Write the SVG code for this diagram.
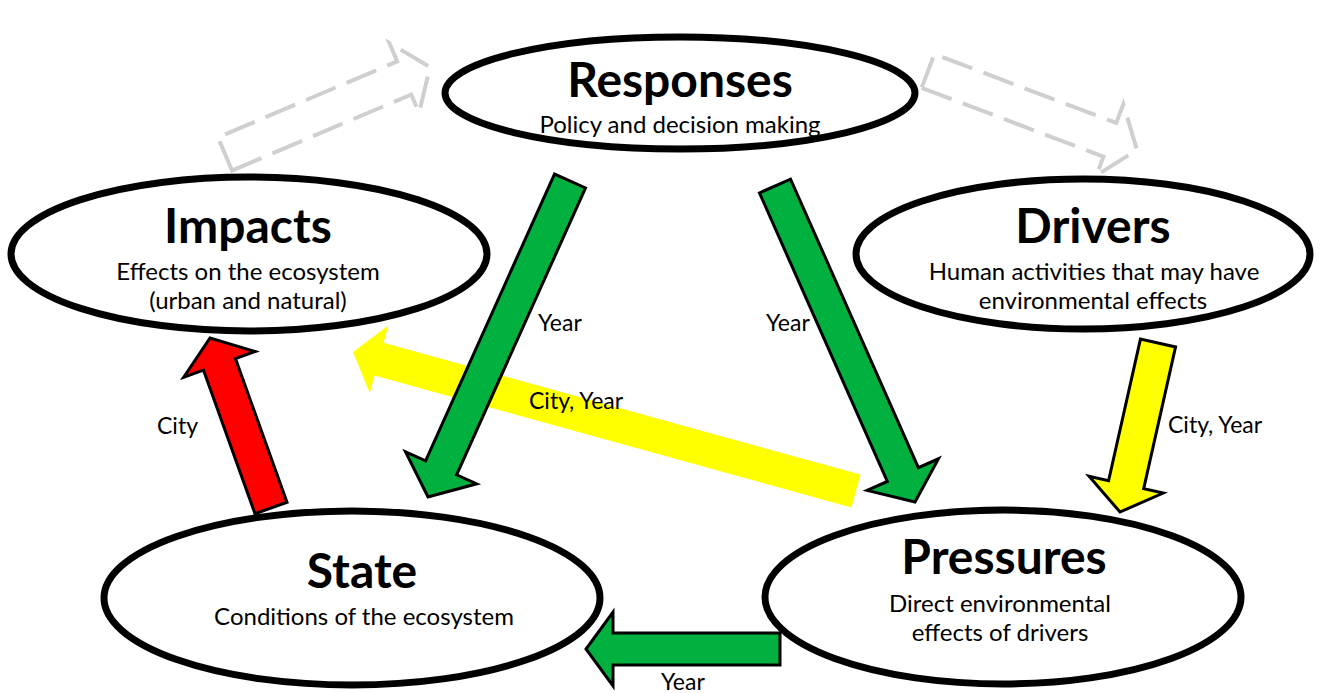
<svg xmlns="http://www.w3.org/2000/svg" width="1323" height="693" viewBox="0 0 1323 693">
  <style>
    .node ellipse { fill: #ffffff; stroke: #000000; stroke-width: 7; }
    .title { font-family: Lato, "Open Sans", "Liberation Sans", sans-serif; font-weight: 700; font-size: 48px; fill: #000; text-anchor: middle; }
    .sub { font-family: Lato, "Open Sans", "Liberation Sans", sans-serif; font-size: 24px; fill: #000; text-anchor: middle; }
    .lbl { font-family: Lato, "Open Sans", "Liberation Sans", sans-serif; font-size: 23px; fill: #000; }
    .green { fill: #00b140; stroke: #000; stroke-width: 3; stroke-linejoin: miter; }
    .red { fill: #ff0000; stroke: #000; stroke-width: 3; stroke-linejoin: miter; }
    .yellow { fill: #ffff00; stroke: #000; stroke-width: 3; stroke-linejoin: miter; }
    .yellow-plain { fill: #ffff00; stroke: none; }
    .dashed { fill: none; stroke: #cfcfcf; stroke-width: 4; stroke-dasharray: 32 12; stroke-linejoin: miter; }
  </style>
  <rect width="1323" height="693" fill="#ffffff"/>

  <!-- DPSIR nodes -->
  <g id="responses" class="node">
    <ellipse cx="680" cy="93" rx="235" ry="56"/>
    <text class="title" x="680" y="97">Responses</text>
    <text class="sub" x="680" y="133">Policy and decision making</text>
  </g>
  <g id="impacts" class="node">
    <ellipse cx="249" cy="254" rx="238" ry="77"/>
    <text class="title" x="248" y="243">Impacts</text>
    <text class="sub" x="248" y="280">Effects on the ecosystem</text>
    <text class="sub" x="248" y="309">(urban and natural)</text>
  </g>
  <g id="drivers" class="node">
    <ellipse cx="1083" cy="254" rx="227" ry="75"/>
    <text class="title" x="1093" y="243">Drivers</text>
    <text class="sub" x="1094" y="280">Human activities that may have</text>
    <text class="sub" x="1093" y="309">environmental effects</text>
  </g>
  <g id="state" class="node">
    <ellipse cx="352" cy="598" rx="248" ry="87"/>
    <text class="title" x="362" y="588">State</text>
    <text class="sub" x="364" y="625">Conditions of the ecosystem</text>
  </g>
  <g id="pressures" class="node">
    <ellipse cx="1003" cy="597" rx="238" ry="87"/>
    <text class="title" x="1004" y="574">Pressures</text>
    <text class="sub" x="1000" y="612">Direct environmental</text>
    <text class="sub" x="1000" y="641">effects of drivers</text>
  </g>

  <!-- block-arrow connectors -->
  <g id="connectors">
    <!-- pressures -> impacts -->
    <polygon class="yellow-plain" points="860.53,474.62 383.55,342.81 388.34,325.46 353,352 369.70,392.92 374.49,375.57 851.47,507.38"/>
    <!-- responses -> state -->
    <polygon class="green" points="554.49,174.03 425.61,460.84 405.54,451.82 428,497 476.70,483.80 456.63,474.78 585.51,187.97"/>
    <!-- responses -> pressures -->
    <polygon class="green" points="759.46,192.89 887.31,481.46 867.19,490.37 915,502 938.51,458.77 918.39,467.68 790.54,179.11"/>
    <!-- pressures -> state -->
    <polygon class="green" points="780,633 613,633 613,612 586,649 613,686 613,665 780,665"/>
    <!-- state -> impacts -->
    <polygon class="red" points="287.0,502.26 235.46,358.62 255.23,351.52 210,338 183.69,377.20 203.46,370.10 255.0,513.74"/>
    <!-- drivers -> pressures -->
    <polygon class="yellow" points="1140.44,339.05 1108.58,480.73 1089.06,476.34 1120,512 1163.22,493.02 1143.70,488.63 1175.56,346.95"/>
    <!-- feedback loop around the cycle -->
    <polygon class="dashed" points="232.03,170.57 411.26,94.51 419.08,112.92 430,67 389.38,42.96 397.20,61.37 217.97,137.43"/>
    <polygon class="dashed" points="921.64,87.84 1103.51,156.59 1096.43,175.30 1137,150 1123.31,104.20 1116.23,122.91 934.36,54.16"/>
  </g>

  <!-- connector labels -->
  <g id="labels">
    <text class="lbl" x="538" y="331">Year</text>
    <text class="lbl" x="766" y="331">Year</text>
    <text class="lbl" x="529" y="409">City, Year</text>
    <text class="lbl" x="157" y="434">City</text>
    <text class="lbl" x="1168" y="433">City, Year</text>
    <text class="lbl" x="661" y="690">Year</text>
  </g>
</svg>
